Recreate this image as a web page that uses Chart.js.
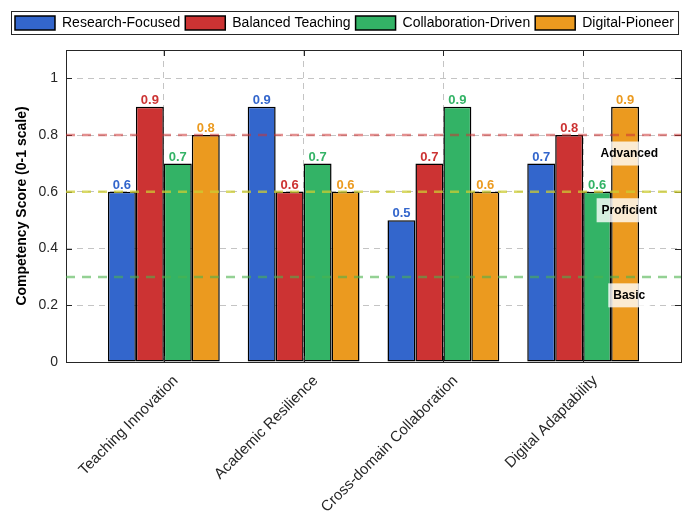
<!DOCTYPE html>
<html>
<head>
<meta charset="utf-8">
<script src="https://cdn.jsdelivr.net/npm/chart.js@4/dist/chart.umd.min.js"></script>
<style>
  html, body { margin: 0; padding: 0; background: #fff; }
  #wrap { width: 700px; height: 530px; }
</style>
</head>
<body>
<div id="wrap"><canvas id="chart" width="700" height="530"></canvas></div>
<script>
// competencies on the x axis
const categories = ['Teaching Innovation', 'Academic Resilience', 'Cross-domain Collaboration', 'Digital Adaptability'];

// one series per faculty profile
const seriesNames = ['Research-Focused', 'Balanced Teaching', 'Collaboration-Driven', 'Digital-Pioneer'];
const researchFocused = [0.6, 0.9, 0.5, 0.7];
const balancedTeaching = [0.9, 0.6, 0.7, 0.8];
const collaborationDriven = [0.7, 0.7, 0.9, 0.6];
const digitalPioneer = [0.8, 0.6, 0.6, 0.9];

// reference levels
const thresholdValues = [0.8, 0.6, 0.3];
const thresholdNames = ['Advanced', 'Proficient', 'Basic'];

const yTicks = [0, 0.2, 0.4, 0.6, 0.8, 1];

const palette = {
  blue: '#3366cc',
  red: '#cc3333',
  green: '#33b366',
  orange: '#eb9a1f'
};
const thresholdColors = ['rgba(204, 51, 51, 0.55)', 'rgba(204, 204, 51, 0.75)', 'rgba(77, 179, 77, 0.6)'];
const FONT = '"Liberation Sans", Arial, Helvetica, sans-serif';

const seriesValues = [researchFocused, balancedTeaching, collaborationDriven, digitalPioneer];
const seriesColors = [palette.blue, palette.red, palette.green, palette.orange];

const datasets = seriesNames.map((name, i) => ({
  label: name,
  data: seriesValues[i].map((v, j) => ({ x: j + 1, y: v })),
  backgroundColor: seriesColors[i],
  borderColor: '#000',
  borderWidth: 1.5,
  borderSkipped: false,
  categoryPercentage: 0.8,
  barPercentage: 1.0
}));

// extra room between the legend and the plot
const legendGap = {
  id: 'legendGap',
  beforeInit(chart) {
    const fit = chart.legend.fit;
    chart.legend.fit = function () {
      fit.bind(chart.legend)();
      this.height += 10;
    };
  }
};

// box around the axes, inward ticks, bar value labels, threshold lines
const decorations = {
  id: 'decorations',
  afterDatasetsDraw(chart) {
    const { ctx, chartArea: a, scales: { x, y } } = chart;
    ctx.save();

    // value labels above bars
    ctx.font = `bold 13px ${FONT}`;
    ctx.textAlign = 'center';
    ctx.textBaseline = 'bottom';
    chart.data.datasets.forEach((ds, i) => {
      chart.getDatasetMeta(i).data.forEach((bar, j) => {
        ctx.fillStyle = ds.backgroundColor;
        ctx.fillText(seriesValues[i][j].toFixed(1), bar.x, bar.y);
      });
    });

    // axes box
    ctx.strokeStyle = '#262626';
    ctx.lineWidth = 1;
    ctx.setLineDash([]);
    ctx.strokeRect(a.left + 0.5, a.top + 0.5, a.right - a.left, a.bottom - a.top);
    const tl = 6;
    ctx.beginPath();
    yTicks.forEach(v => {
      const py = Math.round(y.getPixelForValue(v)) + 0.5;
      ctx.moveTo(a.left, py); ctx.lineTo(a.left + tl, py);
      ctx.moveTo(a.right, py); ctx.lineTo(a.right - tl, py);
    });
    categories.forEach((c, j) => {
      const px = Math.round(x.getPixelForValue(j + 1)) + 0.5;
      ctx.moveTo(px, a.top); ctx.lineTo(px, a.top + tl);
      ctx.moveTo(px, a.bottom); ctx.lineTo(px, a.bottom - tl);
    });
    ctx.stroke();

    // threshold lines
    ctx.lineWidth = 2.5;
    ctx.setLineDash([9, 7]);
    thresholdValues.forEach((v, k) => {
      const py = y.getPixelForValue(v);
      ctx.strokeStyle = thresholdColors[k];
      ctx.beginPath();
      ctx.moveTo(a.left, py);
      ctx.lineTo(a.right, py);
      ctx.stroke();
    });
    ctx.setLineDash([]);

    // threshold labels with translucent background
    ctx.font = `bold 12px ${FONT}`;
    ctx.textBaseline = 'middle';
    thresholdValues.forEach((v, k) => {
      const px = x.getPixelForValue(4.33);
      const py = y.getPixelForValue(v - 0.065);
      const w = ctx.measureText(thresholdNames[k]).width;
      ctx.fillStyle = 'rgba(255, 255, 255, 0.8)';
      ctx.fillRect(px - w / 2 - 5, py - 12, w + 10, 24);
      ctx.fillStyle = '#000';
      ctx.fillText(thresholdNames[k], px, py);
    });

    ctx.restore();
  },
  afterDraw(chart) {
    // frame around the legend
    const boxes = chart.legend.legendHitBoxes;
    if (!boxes || !boxes.length) return;
    const ctx = chart.ctx;
    const left = Math.min(...boxes.map(b => b.left));
    const right = Math.max(...boxes.map(b => b.left + b.width));
    const top = Math.min(...boxes.map(b => b.top));
    const bottom = Math.max(...boxes.map(b => b.top + b.height));
    ctx.save();
    ctx.strokeStyle = '#262626';
    ctx.lineWidth = 1;
    ctx.strokeRect(Math.round(left - 4) + 0.5, Math.round(top - 5) + 0.5, right - left + 8, bottom - top + 9);
    ctx.restore();
  }
};

new Chart(document.getElementById('chart'), {
  type: 'bar',
  data: { datasets },
  plugins: [legendGap, decorations],
  options: {
    responsive: false,
    animation: false,
    layout: { padding: { left: 8, right: 19, top: 11, bottom: 0 } },
    scales: {
      x: {
        type: 'linear',
        min: 0.3,
        max: 4.7,
        offset: false,
        afterBuildTicks: (scale) => {
          scale.ticks = categories.map((c, j) => ({ value: j + 1 }));
        },
        afterFit: (scale) => { scale.height = 168; },
        grid: {
          color: '#c4c4c4',
          lineWidth: 1,
          offset: false,
          drawTicks: false
        },
        border: { display: false, dash: [6, 5] },
        ticks: {
          autoSkip: false,
          minRotation: 45,
          maxRotation: 45,
          padding: 10,
          labelOffset: 12,
          color: '#262626',
          font: { family: FONT, size: 15 },
          callback: (v) => categories[v - 1]
        }
      },
      y: {
        min: 0,
        max: 1.1,
        afterBuildTicks: (scale) => {
          scale.ticks = yTicks.map(v => ({ value: v }));
        },
        afterFit: (scale) => { scale.width = 58; },
        grid: {
          color: '#c4c4c4',
          lineWidth: 1,
          drawTicks: false
        },
        border: { display: false, dash: [6, 5] },
        title: {
          display: true,
          text: 'Competency Score (0-1 scale)',
          color: '#000',
          font: { family: FONT, size: 14, weight: 'bold' },
          padding: { top: 6, bottom: 6 }
        },
        ticks: {
          padding: 8,
          color: '#262626',
          font: { family: FONT, size: 14 },
          callback: (v) => String(Math.round(v * 10) / 10)
        }
      }
    },
    plugins: {
      legend: {
        display: true,
        position: 'top',
        labels: {
          boxWidth: 40,
          boxHeight: 14,
          padding: 5,
          color: '#000',
          font: { family: FONT, size: 14 }
        }
      },
      tooltip: { enabled: false }
    }
  }
});
</script>
</body>
</html>
